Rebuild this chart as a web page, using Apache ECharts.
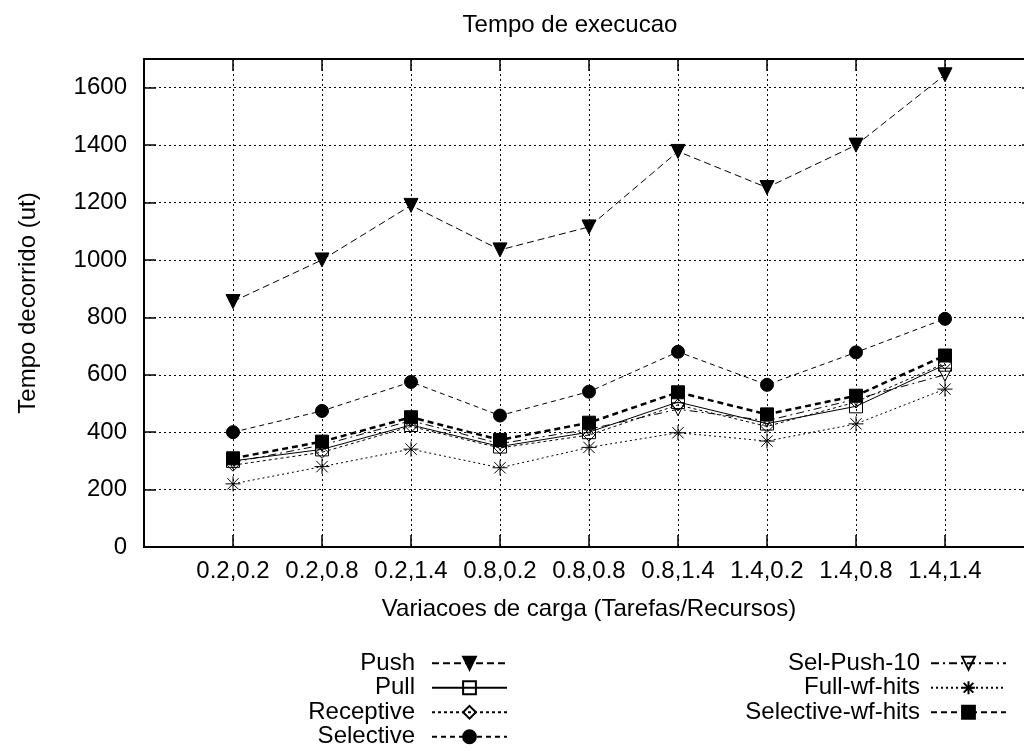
<!DOCTYPE html>
<html>
<head>
<meta charset="utf-8">
<script src="https://cdn.jsdelivr.net/npm/echarts@6/dist/echarts.min.js"></script>
<style>html,body{margin:0;padding:0;background:#fff}#c{width:1024px;height:751px}</style>
</head>
<body>
<div id="c"></div>
<script>
const categories = ['0.2,0.2','0.2,0.8','0.2,1.4','0.8,0.2','0.8,0.8','0.8,1.4','1.4,0.2','1.4,0.8','1.4,1.4'];
const push       = [855, 1000, 1190, 1035, 1115, 1378, 1252, 1400, 1645];
const pull       = [300, 340, 425, 350, 400, 505, 430, 490, 635];
const receptive  = [285, 330, 420, 345, 390, 495, 420, 505, 640];
const selective  = [400, 474, 575, 458, 541, 680, 565, 678, 795];
const selPush10  = [295, 355, 440, 360, 410, 480, 440, 515, 600];
const fullWfHits = [220, 280, 341, 276, 347, 398, 369, 429, 550];
const selWfHits  = [309, 367, 452, 373, 433, 539, 462, 527, 667];
const yTicks = [0, 200, 400, 600, 800, 1000, 1200, 1400, 1600];

const FONT = "'Liberation Sans', Arial, sans-serif";
const pts = arr => arr.map((v, i) => [i + 1, v]);
const starPath = 'path://M5 0L5 10M0 5L10 5M1.2 1.2L8.8 8.8M8.8 1.2L1.2 8.8';

function mk(name, data, symbol, size, fill, lineType, lineWidth, extra) {
  return Object.assign({
    name, type: 'line', data: pts(data), symbol, symbolSize: size,
    itemStyle: { color: fill, borderColor: '#000', borderWidth: 1 },
    lineStyle: { color: '#000', width: lineWidth, type: lineType },
    emphasis: { disabled: true }, animation: false, z: 3
  }, extra || {});
}

const chart = echarts.init(document.getElementById('c'), null, { renderer: 'canvas' });
const legendText = pad => ({ fontSize: 24, lineHeight: 24.5, color: '#000', fontFamily: FONT, padding: [0, pad, 0, 0] });
chart.setOption({
  backgroundColor: '#fff',
  animation: false,
  title: {
    text: 'Tempo de execucao', left: 565, top: 8, textAlign: 'center',
    textStyle: { fontSize: 24, fontWeight: 'normal', color: '#000', fontFamily: FONT }
  },
  grid: { left: 144, top: 59, right: -10, bottom: 204, containLabel: false, outerBoundsMode: 'none' },
  legend: [
    { data: ['Push', 'Pull', 'Receptive', 'Selective'], orient: 'vertical', align: 'right',
      right: 1024 - 508, top: 651, itemWidth: 75, itemHeight: 16, itemGap: 0, padding: 0,
      selectedMode: false, textStyle: legendText(12) },
    { data: ['Sel-Push-10', 'Full-wf-hits', 'Selective-wf-hits'], orient: 'vertical', align: 'right',
      right: 17, top: 651, itemWidth: 75, itemHeight: 16, itemGap: 0, padding: 0,
      selectedMode: false, textStyle: legendText(6) }
  ],
  xAxis: [
    { type: 'value', min: 0, max: 10, interval: 1, position: 'bottom',
      axisLine: { show: true, onZero: false, lineStyle: { color: '#000', width: 2 } },
      axisTick: { show: true, inside: true, length: 12, lineStyle: { color: '#000', width: 1.5 } },
      axisLabel: { formatter: v => categories[v - 1] || '', fontSize: 24, color: '#000', fontFamily: FONT, margin: 12 },
      splitLine: { show: true, lineStyle: { color: '#000', width: 1, type: [2, 3] } },
      name: 'Variacoes de carga (Tarefas/Recursos)', nameLocation: 'middle', nameGap: 50,
      nameTextStyle: { fontSize: 24, color: '#000', fontFamily: FONT } },
    { type: 'value', min: 0, max: 10, interval: 1, position: 'top',
      axisLine: { show: true, onZero: false, lineStyle: { color: '#000', width: 2 } },
      axisTick: { show: true, inside: true, length: 12, lineStyle: { color: '#000', width: 1.5 } },
      axisLabel: { show: false }, splitLine: { show: false } }
  ],
  yAxis: [
    { type: 'value', min: 0, max: 1700, interval: 200, position: 'left',
      axisLine: { show: true, onZero: false, lineStyle: { color: '#000', width: 2 } },
      axisTick: { show: true, inside: true, length: 12, lineStyle: { color: '#000', width: 1.5 } },
      axisLabel: { formatter: v => (yTicks.indexOf(v) >= 0 ? String(v) : ''), fontSize: 24, color: '#000', fontFamily: FONT, margin: 17 },
      splitLine: { show: true, lineStyle: { color: '#000', width: 1, type: [2, 3] } },
      name: 'Tempo decorrido (ut)', nameLocation: 'middle', nameGap: 104, nameRotate: 90,
      nameTextStyle: { fontSize: 24, color: '#000', fontFamily: FONT } },
    { type: 'value', min: 0, max: 1700, interval: 200, position: 'right',
      axisLine: { show: true, onZero: false, lineStyle: { color: '#000', width: 2 } },
      axisTick: { show: true, inside: true, length: 12, lineStyle: { color: '#000', width: 1.5 } },
      axisLabel: { show: false }, splitLine: { show: false } }
  ],
  series: [
    mk('Push', push, 'triangle', 14, '#000', [7, 4], 1, { symbolRotate: 180 }),
    mk('Pull', pull, 'rect', 13, 'rgba(0,0,0,0)', 'solid', 1),
    mk('Receptive', receptive, 'diamond', 12, 'rgba(0,0,0,0)', [3, 3], 1),
    mk('Selective', selective, 'circle', 13, '#000', [5, 4], 1),
    mk('Sel-Push-10', selPush10, 'triangle', 13, 'rgba(0,0,0,0)', [8, 4, 2, 4], 1, { symbolRotate: 180 }),
    mk('Full-wf-hits', fullWfHits, starPath, 15, 'rgba(0,0,0,0)', [2, 3], 1),
    mk('Selective-wf-hits', selWfHits, 'rect', 13, '#000', [6, 4], 2.5)
  ]
});
</script>
</body>
</html>
